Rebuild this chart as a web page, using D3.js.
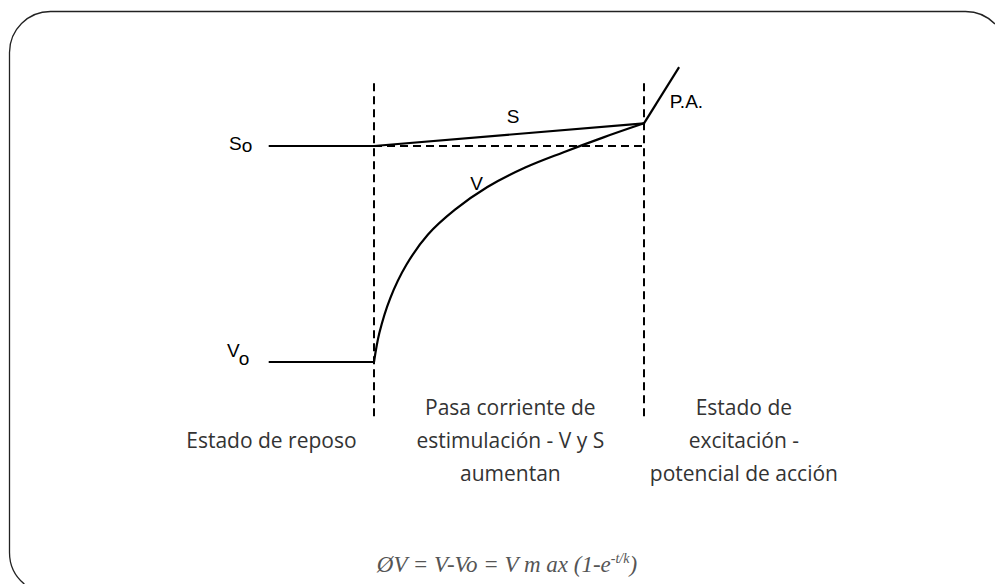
<!DOCTYPE html>
<html>
<head>
<meta charset="utf-8">
<style>
  html, body { margin: 0; padding: 0; background: #fff; overflow: hidden; width: 995px; height: 584px; }
  svg { display: block; overflow: hidden; }
  .frame { fill: none; stroke: #222; stroke-width: 1.3px; }
  .solid { fill: none; stroke: #000; stroke-width: 2.2px; stroke-linejoin: round; }
  .dash { fill: none; stroke: #000; stroke-width: 2px; stroke-dasharray: 8 5; }
  .lbl { font-family: "Liberation Sans", Arial, sans-serif; font-size: 19px; fill: #000; }
  .phase { font-family: "Open Sans", sans-serif; font-size: 21px; fill: #333; text-anchor: middle; }
  .formula { font-family: "Liberation Serif", serif; font-style: italic; font-size: 23px; fill: #555; }
</style>
</head>
<body>
<svg width="995" height="584"></svg>
<script src="https://d3js.org/d3.v7.min.js"></script>
<script>
// time (arbitrary units, stimulus starts at 0, threshold reached at 10)
const restT = [-3.9, 0];
const S0 = 20;          // resting threshold level
const V0 = 0;           // resting potential level
const thresholdT = 10;

// V rising during stimulation
const vT = [0, 0.2, 0.6, 1.2, 2.0, 3.0, 4.2, 5.6, 7.0, 8.5, 10];
const vVal = [0, 2.7, 5.9, 9.0, 11.8, 14.1, 16.2, 18.0, 19.4, 20.8, 22.1];

// S rising slowly
const sT = [0, 10];
const sVal = [20, 22.1];

// action potential rise
const paT = [10, 11.3];
const paVal = [22.1, 27.3];

// vertical dashed markers
const markT = [0, 10];
const markRange = [25.8, -5.4];

const phaseLabels = [
  { t: -3.8, lines: ["", "Estado de reposo"] },
  { t: 5.05, lines: ["Pasa corriente de", "estimulación - V y S", "aumentan"] },
  { t: 13.7, lines: ["Estado de", "excitación -", "potencial de acción"] }
];

const svg = d3.select('svg');
const x = d3.scaleLinear().domain([0, 10]).range([374, 644]);
const y = d3.scaleLinear().domain([0, 20]).range([362, 146]);

// rounded frame: only the part inside the window (top, top corners, left side)
const r = 41, L = 9.5, T = 11.5, R = 1006.5, B = 593.5;
const fp = d3.path();
fp.moveTo(995, T + r - Math.sqrt(r * r - (995 - (R - r)) ** 2));
fp.arc(R - r, T + r, r, Math.atan2(-Math.sqrt(r * r - (995 - (R - r)) ** 2), 995 - (R - r)), -Math.PI / 2, true);
fp.lineTo(L + r, T);
fp.arc(L + r, T + r, r, -Math.PI / 2, -Math.PI, true);
fp.lineTo(L, B - r);
fp.arc(L + r, B - r, r, Math.PI, Math.PI * 0.72, true);
svg.append('path').attr('class', 'frame').attr('d', fp.toString());

const line = d3.line().x(d => x(d[0])).y(d => y(d[1]));

// dashed guides
markT.forEach(t => {
  svg.append('path').attr('class', 'dash')
    .attr('d', line([[t, markRange[0]], [t, markRange[1]]]));
});
svg.append('path').attr('class', 'dash')
  .attr('d', line([[0, S0], [thresholdT, S0]]));

// resting lines
svg.append('path').attr('class', 'solid').attr('d', line(restT.map(t => [t, S0])));
svg.append('path').attr('class', 'solid').attr('d', line(restT.map(t => [t, V0])));

// S
svg.append('path').attr('class', 'solid').attr('d', line(sT.map((t, i) => [t, sVal[i]])));

// V
const vLine = d3.line().x(d => x(d[0])).y(d => y(d[1])).curve(d3.curveCatmullRom.alpha(0.5));
svg.append('path').attr('class', 'solid')
  .attr('d', vLine(vT.map((t, i) => [t, vVal[i]])));

// P.A.
svg.append('path').attr('class', 'solid').attr('d', line(paT.map((t, i) => [t, paVal[i]])));

// curve labels
const so = svg.append('text').attr('class', 'lbl').attr('x', 229).attr('y', 150);
so.append('tspan').text('S');
so.append('tspan').attr('dy', 2).text('o');
const vo = svg.append('text').attr('class', 'lbl').attr('x', 227).attr('y', 357);
vo.append('tspan').text('V');
vo.append('tspan').attr('dy', 8).text('o');
svg.append('text').attr('class', 'lbl').attr('x', x(5.15)).attr('y', y(22.1)).attr('text-anchor', 'middle').text('S');
svg.append('text').attr('class', 'lbl').attr('x', x(3.8)).attr('y', y(15.9)).attr('text-anchor', 'middle').text('V');
svg.append('text').attr('class', 'lbl').attr('x', x(10.95)).attr('y', y(23.5)).text('P.A.');

// phase texts
phaseLabels.forEach(p => {
  p.lines.forEach((s, i) => {
    svg.append('text').attr('class', 'phase')
      .attr('x', x(p.t)).attr('y', 415 + i * 33).text(s);
  });
});

// formula
const f = svg.append('text').attr('class', 'formula').attr('x', 507).attr('y', 572).attr('text-anchor', 'middle');
f.append('tspan').text('ØV = V-Vo = V m ax (1-e');
f.append('tspan').attr('dy', -9).attr('font-size', '14px').text('-t/k');
f.append('tspan').attr('dy', 9).text(')');
</script>
</body>
</html>
